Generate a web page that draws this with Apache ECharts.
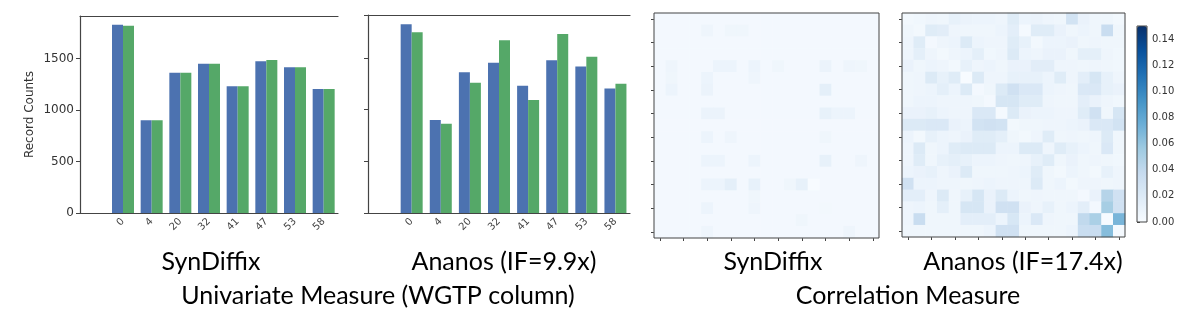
<!DOCTYPE html>
<html>
<head>
<meta charset="utf-8">
<script src="https://cdn.jsdelivr.net/npm/echarts@6/dist/echarts.min.js"></script>
<style>
  html, body { margin: 0; padding: 0; background: #fff; }
  #main { width: 1196px; height: 326px; }
</style>
</head>
<body>
<div id="main"></div>
<script>
// bar chart data (WGTP column) - first slot is empty to leave the left gap
var wgtpCats = ['', '0', '4', '20', '32', '41', '47', '53', '58'];
var synOrig  = [null, 1831, 902, 1364, 1452, 1231, 1476, 1417, 1205];
var synSynth = [null, 1821, 902, 1364, 1452, 1231, 1488, 1417, 1205];
var anaOrig  = [null, 1825, 899, 1362, 1452, 1230, 1478, 1417, 1205];
var anaSynth = [null, 1747, 864, 1259, 1670, 1092, 1731, 1510, 1250];

// correlation difference matrices, 19 x 19 (row 0 at top)
var synCorr = [
  [0.003,0.003,0.003,0.003,0.003,0.003,0.003,0.003,0.003,0.003,0.003,0.003,0.003,0.003,0.003,0.003,0.003,0.003,0.003],
  [0.003,0.003,0.003,0.003,0.007,0.003,0.006,0.006,0.003,0.003,0.003,0.003,0.003,0.003,0.003,0.003,0.003,0.003,0.003],
  [0.003,0.003,0.003,0.003,0.003,0.003,0.003,0.003,0.003,0.003,0.003,0.003,0.003,0.003,0.003,0.003,0.003,0.003,0.003],
  [0.003,0.003,0.003,0.003,0.003,0.003,0.003,0.003,0.003,0.003,0.003,0.003,0.003,0.003,0.003,0.003,0.003,0.003,0.003],
  [0.003,0.007,0.003,0.003,0.003,0.008,0.008,0.003,0.008,0.003,0.006,0.003,0.003,0.003,0.009,0.003,0.007,0.006,0.003],
  [0.003,0.006,0.003,0.003,0.008,0.003,0.003,0.003,0.007,0.003,0.003,0.003,0.003,0.003,0.003,0.003,0.003,0.003,0.003],
  [0.003,0.008,0.003,0.003,0.009,0.003,0.003,0.003,0.003,0.003,0.003,0.003,0.003,0.003,0.014,0.003,0.003,0.003,0.003],
  [0.003,0.003,0.003,0.003,0.003,0.003,0.003,0.003,0.003,0.003,0.003,0.003,0.003,0.003,0.003,0.003,0.003,0.003,0.003],
  [0.003,0.003,0.003,0.003,0.009,0.009,0.003,0.003,0.003,0.003,0.003,0.003,0.003,0.003,0.012,0.008,0.008,0.003,0.003],
  [0.003,0.003,0.003,0.003,0.003,0.003,0.003,0.003,0.003,0.003,0.003,0.003,0.003,0.003,0.003,0.003,0.003,0.003,0.003],
  [0.003,0.003,0.003,0.003,0.008,0.003,0.007,0.003,0.003,0.003,0.003,0.003,0.003,0.003,0.006,0.003,0.003,0.003,0.003],
  [0.003,0.003,0.003,0.003,0.003,0.003,0.003,0.003,0.003,0.003,0.003,0.003,0.003,0.003,0.003,0.003,0.003,0.003,0.003],
  [0.003,0.003,0.003,0.003,0.008,0.008,0.003,0.003,0.008,0.003,0.003,0.003,0.003,0.003,0.012,0.003,0.003,0.007,0.003],
  [0.003,0.003,0.003,0.003,0.003,0.003,0.003,0.003,0.003,0.003,0.003,0.003,0.003,0.003,0.003,0.003,0.003,0.003,0.003],
  [0.003,0.003,0.003,0.003,0.008,0.008,0.014,0.003,0.012,0.003,0.003,0.006,0.012,0.000,0.003,0.003,0.003,0.003,0.003],
  [0.003,0.003,0.003,0.003,0.003,0.003,0.003,0.003,0.006,0.003,0.003,0.003,0.003,0.003,0.003,0.003,0.003,0.003,0.003],
  [0.003,0.003,0.003,0.003,0.008,0.003,0.003,0.003,0.007,0.003,0.003,0.003,0.003,0.003,0.004,0.003,0.003,0.003,0.003],
  [0.003,0.003,0.003,0.003,0.003,0.003,0.003,0.003,0.003,0.003,0.003,0.003,0.006,0.003,0.003,0.003,0.003,0.003,0.003],
  [0.003,0.003,0.003,0.003,0.007,0.003,0.003,0.003,0.003,0.003,0.003,0.003,0.003,0.003,0.003,0.003,0.007,0.003,0.003]
];
var anaCorr = [
  [0.004,0.005,0.007,0.006,0.012,0.009,0.008,0.008,0.007,0.018,0.008,0.009,0.007,0.006,0.028,0.010,0.006,0.006,0.004],
  [0.006,0.004,0.018,0.016,0.007,0.006,0.006,0.006,0.008,0.015,0.002,0.018,0.018,0.010,0.006,0.008,0.006,0.035,0.006],
  [0.007,0.018,0.003,0.007,0.008,0.020,0.008,0.007,0.007,0.018,0.012,0.004,0.008,0.008,0.010,0.006,0.007,0.006,0.006],
  [0.007,0.014,0.007,0.004,0.007,0.008,0.014,0.005,0.007,0.020,0.008,0.007,0.010,0.010,0.006,0.014,0.014,0.007,0.005],
  [0.010,0.006,0.008,0.007,0.004,0.012,0.007,0.008,0.006,0.010,0.010,0.016,0.016,0.007,0.007,0.006,0.007,0.006,0.005],
  [0.006,0.007,0.020,0.012,0.018,0.000,0.020,0.007,0.007,0.012,0.012,0.012,0.008,0.018,0.007,0.015,0.025,0.012,0.007],
  [0.006,0.007,0.008,0.014,0.008,0.020,0.003,0.006,0.020,0.030,0.022,0.022,0.008,0.007,0.006,0.022,0.022,0.012,0.010],
  [0.006,0.008,0.008,0.007,0.007,0.007,0.006,0.003,0.025,0.025,0.018,0.018,0.007,0.006,0.006,0.015,0.010,0.007,0.005],
  [0.010,0.010,0.012,0.008,0.007,0.007,0.022,0.022,0.002,0.020,0.010,0.008,0.008,0.007,0.007,0.018,0.030,0.006,0.025],
  [0.020,0.020,0.022,0.022,0.010,0.008,0.028,0.030,0.028,0.004,0.006,0.006,0.007,0.007,0.008,0.010,0.022,0.022,0.028],
  [0.008,0.004,0.012,0.008,0.007,0.010,0.018,0.018,0.014,0.006,0.004,0.007,0.018,0.006,0.007,0.006,0.007,0.020,0.006],
  [0.007,0.020,0.006,0.008,0.018,0.020,0.020,0.020,0.008,0.008,0.020,0.020,0.007,0.018,0.012,0.008,0.006,0.022,0.006],
  [0.007,0.018,0.006,0.012,0.014,0.012,0.008,0.008,0.007,0.006,0.007,0.012,0.018,0.006,0.010,0.006,0.007,0.006,0.005],
  [0.008,0.010,0.012,0.007,0.010,0.020,0.006,0.006,0.006,0.007,0.008,0.018,0.006,0.004,0.008,0.006,0.004,0.012,0.007],
  [0.030,0.008,0.008,0.007,0.007,0.006,0.007,0.008,0.007,0.007,0.007,0.020,0.006,0.008,0.004,0.007,0.007,0.006,0.007],
  [0.015,0.015,0.007,0.020,0.006,0.012,0.025,0.010,0.020,0.008,0.006,0.007,0.006,0.006,0.006,0.003,0.010,0.045,0.030],
  [0.007,0.008,0.006,0.014,0.006,0.025,0.025,0.010,0.030,0.030,0.010,0.007,0.012,0.006,0.008,0.015,0.003,0.052,0.030],
  [0.007,0.035,0.006,0.006,0.006,0.015,0.015,0.015,0.008,0.024,0.008,0.022,0.007,0.006,0.006,0.040,0.050,0.000,0.070],
  [0.006,0.006,0.006,0.006,0.006,0.006,0.006,0.008,0.030,0.030,0.006,0.006,0.006,0.006,0.008,0.035,0.035,0.065,0.002]
];
var cellIdx = [];
for (var i = 0; i < 19; i++) cellIdx.push(String(i));

var captions = [
  ['SynDiffix', 211, 262], ['Ananos (IF=9.9x)', 504, 262],
  ['SynDiffix', 773, 262], ['Ananos (IF=17.4x)', 1023, 262],
  ['Univariate Measure (WGTP column)', 378, 296], ['Correlation Measure', 908, 296]
];

var blue = '#4c72b0', green = '#55a868';
var spine = '#444';

function toCells(m) {
  var out = [];
  for (var r = 0; r < m.length; r++)
    for (var c = 0; c < m[r].length; c++) out.push([c, r, m[r][c]]);
  return out;
}

var dom = document.getElementById('main');
var myChart = echarts.init(dom, null, { renderer: 'canvas' });

function barX(gi) {
  return {
    type: 'category', gridIndex: gi, data: wgtpCats,
    axisLine: { lineStyle: { color: spine, width: 1.2 } },
    axisTick: { show: false },
    axisLabel: { rotate: 45, fontSize: 10, color: '#444', margin: 7 }
  };
}
function topLine(gi) {
  return {
    type: 'category', gridIndex: gi, data: wgtpCats, position: 'top',
    axisLine: { lineStyle: { color: spine, width: 1.2 } },
    axisTick: { show: false }, axisLabel: { show: false }
  };
}
function barY(gi, labels) {
  return {
    type: 'value', gridIndex: gi, min: 0, max: 1915, interval: 500,
    name: labels ? 'Record Counts' : '', nameLocation: 'middle', nameGap: 44,
    nameTextStyle: { fontSize: 12, color: '#333' },
    axisLine: { show: true, lineStyle: { color: spine, width: 1.2 } },
    axisTick: { show: true, length: 4, lineStyle: { color: spine } },
    axisLabel: { show: labels, fontSize: 12, color: '#333', showMaxLabel: false, margin: 6,
                 formatter: function (v) { return String(v); } },
    splitLine: { show: false }
  };
}
function heatX(gi) {
  return {
    type: 'category', gridIndex: gi, data: cellIdx,
    axisLine: { show: false },
    axisTick: { show: true, alignWithLabel: true, length: 3, lineStyle: { color: spine } },
    axisLabel: { show: false }, splitLine: { show: false }
  };
}
function heatY(gi) {
  return {
    type: 'category', gridIndex: gi, data: cellIdx, inverse: true,
    axisLine: { show: false },
    axisTick: { show: true, alignWithLabel: true, length: 3, lineStyle: { color: spine } },
    axisLabel: { show: false }, splitLine: { show: false }
  };
}
function bars(name, data, color, gi) {
  return {
    name: name, type: 'bar', xAxisIndex: gi === 0 ? 0 : 2, yAxisIndex: gi,
    data: data, barWidth: 11, barGap: '0%',
    itemStyle: { color: color }
  };
}

option = {
  animation: false,
  backgroundColor: '#fff',
  textStyle: { fontFamily: 'DejaVu Sans' },
  grid: [
    { left: 80, top: 16, width: 258, height: 197 },
    { left: 368, top: 15, width: 262, height: 198 },
    { left: 654, top: 13, width: 225, height: 225, show: true, z: 10, borderColor: spine, borderWidth: 1 },
    { left: 902, top: 13, width: 223, height: 224, show: true, z: 10, borderColor: spine, borderWidth: 1 },
    { left: 1137, top: 26, width: 10, height: 196, show: true, z: 10, borderColor: spine, borderWidth: 1 }
  ],
  xAxis: [
    barX(0), topLine(0), barX(1), topLine(1), heatX(2), heatX(3),
    { type: 'value', gridIndex: 4, show: false, min: 0, max: 1 }
  ],
  yAxis: [
    barY(0, true), barY(1, false), heatY(2), heatY(3),
    {
      type: 'value', gridIndex: 4, position: 'right', min: 0, max: 0.15, interval: 0.02,
      axisLine: { show: false },
      axisTick: { show: true, length: 3, lineStyle: { color: spine } },
      axisLabel: { fontSize: 10, color: '#333', margin: 5, showMaxLabel: false,
                   formatter: function (v) { return v.toFixed(2); } },
      splitLine: { show: false }
    }
  ],
  visualMap: {
    type: 'continuous', min: 0, max: 0.15, seriesIndex: [4, 5],
    left: 1137, top: 26, itemWidth: 10, itemHeight: 196, padding: 0,
    calculable: false, text: null, showLabel: false,
    inRange: { color: ['#f7fbff', '#deebf7', '#c6dbef', '#9ecae1', '#6baed6',
                       '#4292c6', '#2171b5', '#08519c', '#08306b'] }
  },
  series: [
    bars('SynDiffix original', synOrig, blue, 0),
    bars('SynDiffix synthetic', synSynth, green, 0),
    bars('Ananos original', anaOrig, blue, 1),
    bars('Ananos synthetic', anaSynth, green, 1),
    { name: 'SynDiffix corr', type: 'heatmap', xAxisIndex: 4, yAxisIndex: 2, data: toCells(synCorr) },
    { name: 'Ananos corr', type: 'heatmap', xAxisIndex: 5, yAxisIndex: 3, data: toCells(anaCorr) }
  ],
  graphic: captions.map(function (c) {
    return {
      type: 'text', x: c[1], y: c[2],
      style: { text: c[0], fill: '#000', font: '25px Lato', textAlign: 'center', textVerticalAlign: 'middle' }
    };
  })
};

if (option && typeof option === "object") {
  myChart.setOption(option, true);
}
</script>
</body>
</html>
